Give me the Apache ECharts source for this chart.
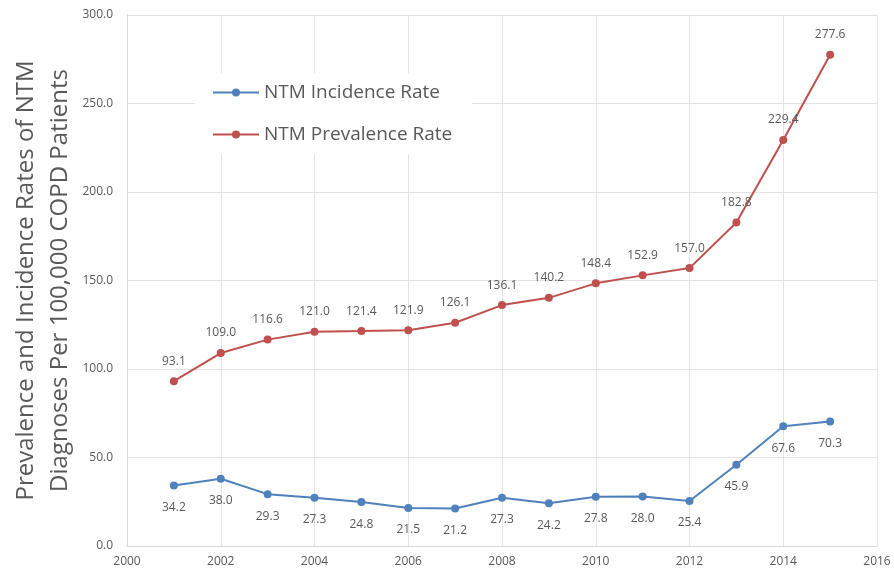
<!DOCTYPE html>
<html><head><meta charset="utf-8">
<script src="https://cdn.jsdelivr.net/npm/echarts@6/dist/echarts.min.js"></script>
<style>html,body{margin:0;padding:0;background:#fff}#c{width:894px;height:571px}</style>
</head><body><div id="c"></div>
<script>
const years = [2001,2002,2003,2004,2005,2006,2007,2008,2009,2010,2011,2012,2013,2014,2015];
const incidence = [34.2,38.0,29.3,27.3,24.8,21.5,21.2,27.3,24.2,27.8,28.0,25.4,45.9,67.6,70.3];
const prevalence = [93.1,109.0,116.6,121.0,121.4,121.9,126.1,136.1,140.2,148.4,152.9,157.0,182.8,229.4,277.6];
const seriesNames = ['NTM Incidence Rate','NTM Prevalence Rate'];
const yTitle = 'Prevalence and Incidence Rates of NTM\nDiagnoses Per 100,000 COPD Patients';

const chart = echarts.init(document.getElementById('c'));
const labelStyle = {show:true, color:'#595959', fontSize:12, fontFamily:'Open Sans', formatter: p => p.value[1].toFixed(1)};
chart.setOption({
  animation:false,
  textStyle:{fontFamily:'Open Sans'},
  grid:{left:127, right:17, top:15, bottom:25, outerBoundsMode:'none', containLabel:false},
  legend:{
    orient:'vertical', left:195, top:73, padding:[10,20,10,17],
    backgroundColor:'#fff', itemGap:23, itemWidth:46, itemHeight:10,
    textStyle:{fontSize:19, color:'#595959', fontFamily:'Open Sans'},
    data: seriesNames
  },
  xAxis:{
    type:'value', min:2000, max:2016, interval:2,
    axisLine:{lineStyle:{color:'#d9d9d9'}}, axisTick:{show:false},
    axisLabel:{color:'#595959', fontSize:12, margin:10, formatter: v => String(v)},
    splitLine:{show:true, lineStyle:{color:'#e3e3e3'}}
  },
  yAxis:{
    type:'value', min:0, max:300, interval:50,
    name: yTitle, nameLocation:'middle', nameGap:50, nameMoveOverlap:false,
    nameTextStyle:{fontSize:24, color:'#595959', lineHeight:34},
    axisLine:{show:true, lineStyle:{color:'#d9d9d9'}}, axisTick:{show:false},
    axisLabel:{color:'#595959', fontSize:12, margin:14, formatter: v => v.toFixed(1)},
    splitLine:{lineStyle:{color:'#e3e3e3'}}
  },
  series:[
    {name:seriesNames[0], type:'line', data: years.map((y,i)=>[y,incidence[i]]),
     symbol:'circle', symbolSize:8, itemStyle:{color:'#4F81BD'}, lineStyle:{width:2, color:'#4F81BD'},
     label:Object.assign({position:'bottom', distance:12}, labelStyle)},
    {name:seriesNames[1], type:'line', data: years.map((y,i)=>[y,prevalence[i]]),
     symbol:'circle', symbolSize:8, itemStyle:{color:'#C0504D'}, lineStyle:{width:2, color:'#C0504D'},
     label:Object.assign({position:'top', distance:10}, labelStyle)}
  ]
});
</script></body></html>
